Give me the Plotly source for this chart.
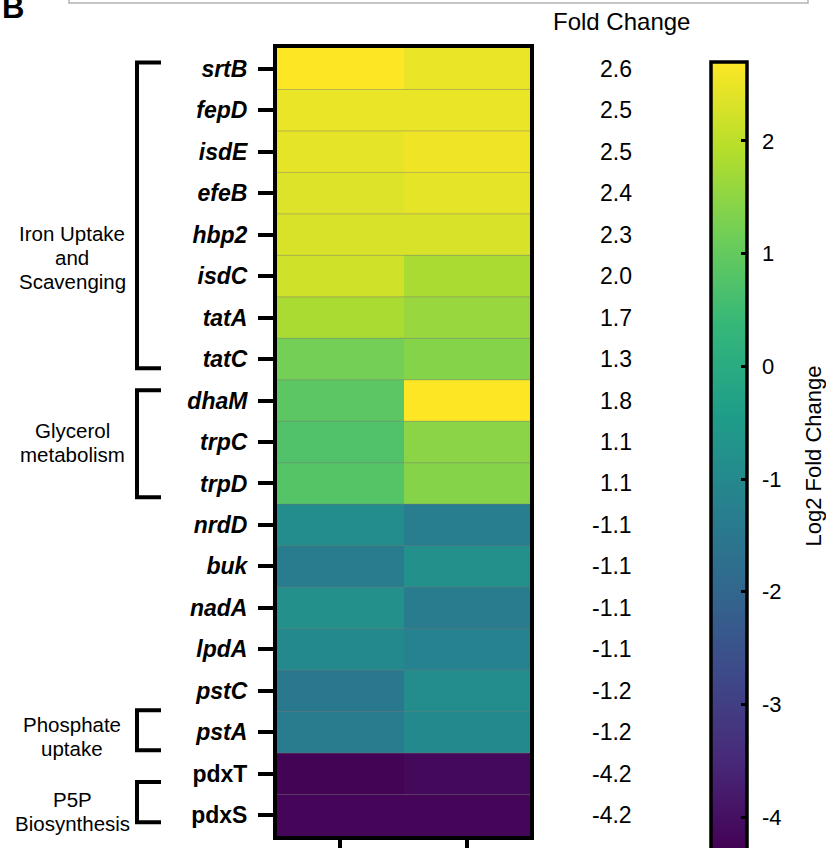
import plotly.graph_objects as go

# Gene rows, top to bottom
genes = ["srtB", "fepD", "isdE", "efeB", "hbp2", "isdC", "tatA", "tatC",
         "dhaM", "trpC", "trpD", "nrdD", "buk", "nadA", "lpdA", "pstC",
         "pstA", "pdxT", "pdxS"]
# Genes written in upright bold instead of italic
upright = {"pdxT", "pdxS"}

# Log2 fold change, replicate 1 and replicate 2
rep1 = [2.7, 2.5, 2.45, 2.35, 2.3, 2.2, 1.8, 1.2,
        0.9, 0.75, 0.8, -0.9, -1.4, -0.8, -1.0, -1.5,
        -1.4, -4.25, -4.2]
rep2 = [2.5, 2.5, 2.55, 2.45, 2.3, 1.8, 1.6, 1.4,
        2.7, 1.45, 1.4, -1.3, -0.8, -1.4, -1.2, -0.9,
        -1.0, -4.15, -4.2]
# Mean log2 fold change printed beside each row
mean_fc = [2.6, 2.5, 2.5, 2.4, 2.3, 2.0, 1.7, 1.3,
           1.8, 1.1, 1.1, -1.1, -1.1, -1.1, -1.1, -1.2,
           -1.2, -4.2, -4.2]

# Functional groups: label lines, bracket top and bottom (row units), label row
groups = [
    (["Iron Uptake", "and", "Scavenging"], -0.15, 7.22, 4.55),
    (["Glycerol", "metabolism"], 7.75, 10.33, 9.0),
    (["Phosphate", "uptake"], 15.47, 16.43, 16.1),
    (["P5P", "Biosynthesis"], 17.2, 18.17, 17.9),
]

cbar_ticks = [-4, -3, -2, -1, 0, 1, 2]
zmin, zmax = -4.3, 2.7

W, H = 826, 848
FONT = "Liberation Sans, Arial, Helvetica, sans-serif"

def px_x(p):
    return p / W

def px_y(p):
    return 1 - p / H

rows = list(range(len(genes)))
z = [[a, b] for a, b in zip(rep1, rep2)]
tick_text = [f"<b>{g}</b>" if g in upright else f"<b><i>{g}</i></b>" for g in genes]

fig = go.Figure()

# colour bar geometry (pixels)
cb_top, cb_len, cb_left, cb_thick = 62, 789, 711, 36

fig.add_trace(go.Heatmap(
    z=z, x=[0, 1], y=rows,
    colorscale="Viridis", zmin=zmin, zmax=zmax,
    hoverinfo="skip",
    colorbar=dict(
        x=px_x(cb_left), xanchor="left", xpad=0,
        y=px_y(cb_top), yanchor="top", ypad=0,
        lenmode="pixels", len=cb_len, thickness=cb_thick,
        outlinewidth=3.5, outlinecolor="black",
        ticks="inside", ticklen=7, tickwidth=3, tickcolor="black",
        tickvals=cbar_ticks, showticklabels=False,
    ),
))

# empty heatmap whose transparent, hairline-thin scale draws the inward
# ticks on the left edge of the colour bar (drawn after the main bar)
clear = "rgba(0,0,0,0)"
fig.add_trace(go.Heatmap(
    z=[[None]], x=[0], y=[0], xaxis="x2", yaxis="y2",
    colorscale=[[0, clear], [1, clear]], zmin=zmin, zmax=zmax,
    hoverinfo="skip",
    colorbar=dict(
        x=px_x(cb_left - 1), xanchor="left", xpad=0,
        y=px_y(cb_top), yanchor="top", ypad=0,
        lenmode="pixels", len=cb_len, thickness=1,
        outlinewidth=0, bgcolor=clear,
        ticks="outside", ticklen=8, tickwidth=3, tickcolor="black",
        tickvals=cbar_ticks, showticklabels=False,
    ),
))

# axis over the colour bar carrying its tick labels
px_per_unit = cb_len / (zmax - zmin)
y2_low = zmax - (H - cb_top) / px_per_unit
cbar_text = [str(t) for t in cbar_ticks]

fig.update_layout(
    width=W, height=H,
    margin=dict(l=0, r=0, t=0, b=0, autoexpand=False),
    paper_bgcolor="white", plot_bgcolor="rgba(0,0,0,0)",
    font=dict(family=FONT, color="black"),
    showlegend=False,
    xaxis=dict(
        domain=[px_x(277), px_x(530)], range=[-0.5, 1.5],
        tickvals=[0, 1], showticklabels=False,
        ticks="outside", ticklen=16, tickwidth=4, tickcolor="black",
        showline=True, mirror=True, linewidth=4, linecolor="black",
        showgrid=False, zeroline=False, fixedrange=True,
    ),
    yaxis=dict(
        domain=[px_y(836), px_y(48)], range=[len(genes) - 0.5, -0.5],
        tickvals=rows, ticktext=tick_text,
        tickfont=dict(size=23, color="black", family=FONT),
        ticks="outside", ticklen=15, tickwidth=4, tickcolor="black",
        ticklabelstandoff=6,
        showline=True, mirror=True, linewidth=4, linecolor="black",
        showgrid=False, zeroline=False, fixedrange=True,
    ),
    xaxis2=dict(
        domain=[px_x(cb_left), px_x(cb_left + cb_thick)], anchor="y2",
        range=[5, 6], visible=False, fixedrange=True,
    ),
    yaxis2=dict(
        domain=[0, px_y(cb_top)], anchor="x2", side="right",
        range=[y2_low, zmax],
        tickvals=cbar_ticks, ticktext=cbar_text,
        tickfont=dict(size=22, color="black", family=FONT),
        ticks="", ticklabelstandoff=14,
        showline=False, showgrid=False, zeroline=False, fixedrange=True,
    ),
)

annotations = []
# mean fold change column
for i, v in enumerate(mean_fc):
    annotations.append(dict(
        x=px_x(634), xref="paper", xanchor="right",
        y=i, yref="y", yanchor="middle",
        text=f"{v:.1f}", showarrow=False,
        font=dict(size=23, color="black", family=FONT),
    ))
annotations.append(dict(
    x=px_x(621), xref="paper", xanchor="center",
    y=px_y(21), yref="paper", yanchor="middle",
    text="Fold Change", showarrow=False,
    font=dict(size=24, color="black", family=FONT),
))
annotations.append(dict(
    x=0, xref="paper", xanchor="left",
    y=px_y(7), yref="paper", yanchor="middle",
    text="<b>B</b>", showarrow=False,
    font=dict(size=31, color="black", family=FONT),
))
# colour bar title, centred on the bar
annotations.append(dict(
    x=px_x(813), xref="paper", xanchor="center",
    y=px_y(cb_top + cb_len / 2), yref="paper", yanchor="middle",
    text="Log2 Fold Change", textangle=-90, showarrow=False,
    font=dict(size=22, color="black", family=FONT),
))

shapes = []
LINE_STEP = 24
for lines, top, bottom, mid in groups:
    n = len(lines)
    for k, line in enumerate(lines):
        annotations.append(dict(
            x=px_x(72), xref="paper", xanchor="center",
            y=mid, yref="y", yanchor="middle",
            yshift=((n - 1) / 2 - k) * LINE_STEP,
            text=line, showarrow=False,
            font=dict(size=20.5, color="black", family=FONT),
        ))
    xa, xb = px_x(137), px_x(161)
    shapes.append(dict(
        type="path", xref="paper", yref="y",
        path=f"M {xb},{top} L {xa},{top} L {xa},{bottom} L {xb},{bottom}",
        line=dict(color="black", width=4),
    ))

# thin separators between heatmap rows
for i in rows[1:]:
    shapes.append(dict(
        type="line", xref="x domain", yref="y",
        x0=0, x1=1, y0=i - 0.5, y1=i - 0.5,
        line=dict(color="rgba(120,120,120,0.45)", width=1),
    ))

# frame of the panel above, cut by the page edge
shapes.append(dict(
    type="rect", xref="paper", yref="paper",
    x0=px_x(69), x1=px_x(808), y0=px_y(3), y1=1.05,
    line=dict(color="#b4b4b4", width=1.5),
))

fig.update_layout(annotations=annotations, shapes=shapes)

fig.write_html("out.html")
